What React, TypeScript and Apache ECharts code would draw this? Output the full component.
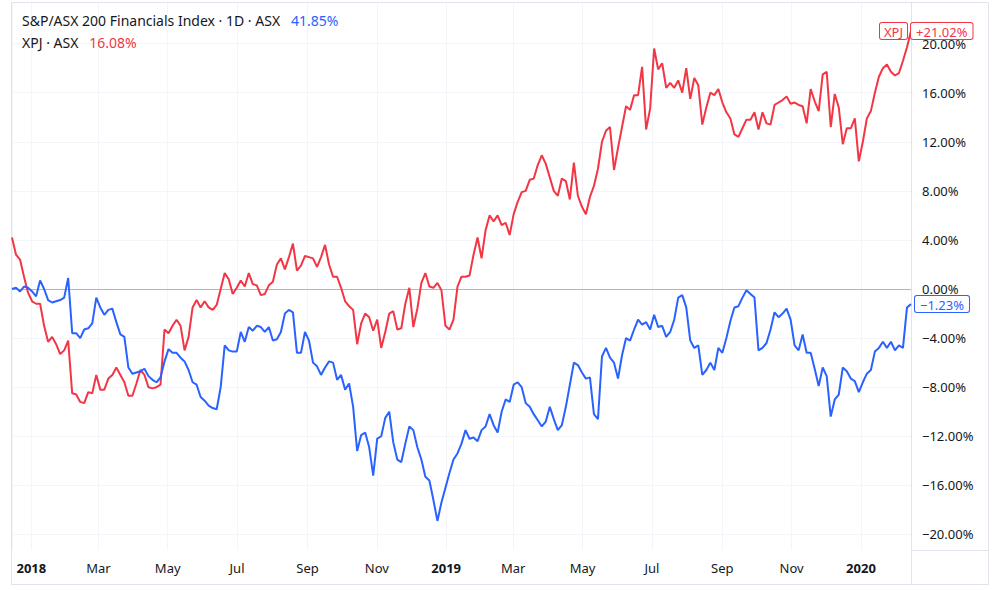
import React, { useEffect, useRef } from 'react';
import * as echarts from 'echarts';

const startDate = '2017-12-15';
const endDate = '2020-02-14';

// XPJ · ASX (% change), evenly spaced samples from startDate to endDate
const xpjValues = [
  4.2, 2.8, 2.4, 1.0, -0.3, -1.0, -1.2, -1.2, -3.0, -4.3,
  -3.9, -4.5, -5.3, -5.0, -4.2, -8.5, -8.6, -9.2, -9.3, -8.4,
  -8.5, -7.0, -8.2, -8.2, -7.3, -7.0, -6.4, -7.0, -7.6, -8.7,
  -8.7, -7.7, -6.6, -7.0, -8.0, -8.1, -8.0, -7.8, -3.3, -3.6,
  -3.0, -2.5, -3.0, -5.0, -3.9, -1.5, -0.9, -1.5, -1.0, -1.5,
  -1.7, -1.3, 0.0, 1.3, 0.8, -0.4, 0.1, 0.7, 0.2, 1.3,
  0.4, 0.3, -0.5, -0.4, 0.3, 0.6, 2.0, 2.5, 1.6, 2.6,
  3.7, 1.5, 1.9, 2.7, 2.6, 2.5, 1.8, 2.6, 3.6, 2.0,
  1.0, 1.0, 0.1, -1.0, -1.4, -1.7, -4.5, -2.8, -2.0, -2.3,
  -3.4, -2.5, -4.8, -3.5, -2.0, -1.8, -3.3, -3.2, -1.2, 0.1,
  -3.1, -1.6, 0.5, 1.3, 0.2, 0.1, 0.5, -0.1, -3.0, -3.3,
  -2.5, 0.2, 1.0, 1.0, 1.1, 2.8, 4.2, 2.5, 4.8, 6.0,
  5.5, 6.0, 5.2, 5.4, 4.4, 6.1, 7.1, 7.9, 8.0, 8.9,
  9.0, 10.1, 10.9, 10.2, 9.1, 8.0, 7.6, 9.0, 8.8, 7.3,
  10.3, 7.6, 6.7, 6.1, 7.5, 8.4, 9.8, 12.0, 12.9, 13.2,
  9.7, 11.5, 13.2, 14.9, 14.6, 15.8, 15.8, 18.1, 13.0, 14.7,
  19.6, 17.9, 18.4, 16.4, 16.8, 16.4, 17.0, 16.0, 18.0, 15.5,
  17.2, 16.6, 13.4, 14.8, 16.0, 15.8, 16.3, 15.2, 14.4, 13.9,
  12.6, 12.4, 13.1, 13.8, 13.8, 14.4, 13.0, 14.4, 13.5, 13.4,
  15.0, 15.2, 15.4, 15.7, 15.1, 15.2, 15.0, 14.9, 13.5, 16.3,
  15.3, 14.5, 17.5, 17.7, 13.2, 15.9, 14.8, 11.8, 13.1, 13.1,
  13.9, 10.4, 12.0, 13.9, 14.5, 16.0, 17.3, 18.0, 18.3, 17.7,
  17.4, 17.6, 18.6, 19.7, 21.02,
];

// S&P/ASX 200 Financials Index (% change), same sample dates
const finValues = [
  0.0, 0.1, -0.2, 0.2, 0.1, -0.2, -0.6, 0.7, 0.0, -0.9,
  -1.1, -1.0, -0.9, -0.7, 0.9, -3.6, -3.6, -4.0, -3.3, -3.2,
  -2.8, -0.7, -1.5, -2.1, -1.7, -1.6, -2.7, -3.7, -3.9, -6.4,
  -6.9, -6.8, -6.7, -6.5, -7.1, -7.4, -7.6, -7.2, -5.9, -4.9,
  -5.2, -5.2, -5.6, -5.9, -6.6, -7.6, -7.8, -8.8, -9.1, -9.5,
  -9.7, -9.8, -8.0, -4.6, -5.0, -5.1, -5.1, -3.5, -4.3, -3.1,
  -3.4, -3.0, -3.1, -3.5, -3.1, -4.2, -4.1, -3.5, -2.0, -1.7,
  -1.9, -5.2, -5.2, -3.5, -4.2, -6.0, -6.3, -7.0, -6.4, -5.9,
  -6.0, -7.4, -7.0, -8.2, -7.7, -9.6, -13.2, -11.9, -11.7, -12.9,
  -15.2, -12.2, -12.0, -10.5, -10.0, -12.5, -13.9, -14.1, -12.6, -11.2,
  -11.5, -12.9, -13.9, -15.3, -15.6, -17.2, -18.9, -17.4, -16.2, -15.0,
  -13.9, -13.4, -12.6, -11.5, -12.2, -12.1, -12.4, -11.5, -11.2, -10.2,
  -11.1, -11.7, -10.0, -9.0, -9.2, -7.8, -7.6, -8.0, -9.3, -9.6,
  -10.2, -10.7, -11.2, -10.8, -9.6, -10.6, -11.5, -11.1, -9.6, -7.8,
  -6.0, -6.2, -6.8, -7.3, -7.2, -10.2, -10.6, -5.5, -4.8, -5.6,
  -6.0, -7.3, -5.4, -4.0, -4.2, -3.3, -2.5, -2.9, -2.7, -3.3,
  -2.1, -3.1, -3.0, -3.9, -3.5, -2.5, -0.7, -0.5, -1.5, -4.2,
  -4.8, -4.6, -7.0, -6.6, -6.0, -6.6, -4.8, -5.2, -4.0, -2.6,
  -1.5, -1.4, -0.7, -0.1, -0.4, -0.7, -5.0, -4.8, -4.4, -3.3,
  -1.9, -2.3, -2.0, -1.6, -2.5, -4.6, -5.0, -3.7, -5.2, -5.2,
  -6.5, -7.9, -6.4, -7.1, -10.4, -9.0, -8.6, -6.4, -6.7, -7.3,
  -7.5, -8.4, -7.6, -6.9, -6.6, -5.1, -4.8, -4.3, -4.8, -4.3,
  -5.0, -4.6, -4.8, -1.5, -1.23,
];

const yTickValues = [-20, -16, -12, -8, -4, 0, 4, 8, 12, 16, 20];
const yMin = -21.27;
const yMax = 23.31;

const finName = 'S&P/ASX 200 Financials Index · 1D · ASX';
const finChange = '41.85%';
const xpjName = 'XPJ · ASX';
const xpjChange = '16.08%';
const xpjTag = 'XPJ';
const xpjLast = '+21.02%';
const finLast = '\u22121.23%';

const RED = '#f23645';
const BLUE = '#2962ff';
const TEXT = '#131722';
const BORDER = '#e0e3eb';
const GRID = '#f3f5fa';
const FONT = '"Noto Sans", sans-serif';

export default function App() {
  const ref = useRef<HTMLDivElement>(null);

  useEffect(() => {
    const chart = echarts.init(ref.current!, null, { renderer: 'svg' });
    const t0 = +echarts.time.parse(startDate);
    const t1 = +echarts.time.parse(endDate);
    const n = xpjValues.length;
    const times = xpjValues.map((_, i) => t0 + ((t1 - t0) * i) / (n - 1));

    const fmtPct = (v: number) =>
      (v < 0 ? '\u2212' : '') + Math.abs(v).toFixed(2) + '%';

    chart.setOption({
      animation: false,
      backgroundColor: '#ffffff',
      textStyle: { fontFamily: FONT },
      grid: {
        left: 12,
        right: 89,
        top: 3,
        bottom: 40,
        containLabel: false,
        outerBoundsMode: 'none',
      },
      xAxis: {
        type: 'time',
        min: t0,
        max: t1,
        splitNumber: 13,
        axisLine: { show: true, lineStyle: { color: BORDER } },
        axisTick: { show: false },
        axisLabel: {
          color: TEXT,
          fontSize: 13,
          fontFamily: FONT,
          margin: 11,
          hideOverlap: false,
          formatter: {
            year: '{yr|{yyyy}}',
            month: '{MMM}',
          },
          rich: { yr: { fontWeight: 'bold', fontSize: 13, color: TEXT, fontFamily: FONT } },
        },
        splitLine: { show: true, lineStyle: { color: GRID, width: 1 } },
      },
      yAxis: {
        type: 'value',
        position: 'right',
        min: yMin,
        max: yMax,
        scale: true,
        axisLine: { show: true, lineStyle: { color: BORDER } },
        axisTick: { show: false, customValues: yTickValues },
        axisLabel: {
          customValues: yTickValues,
          color: TEXT,
          fontSize: 13,
          fontFamily: FONT,
          margin: 11,
          formatter: fmtPct,
        },
        splitLine: { show: true, lineStyle: { color: GRID, width: 1 } },
      },
      series: [
        {
          name: 'XPJ',
          type: 'line',
          data: times.map((t, i) => [t, xpjValues[i]]),
          showSymbol: false,
          symbol: 'none',
          lineStyle: { color: RED, width: 2 },
          itemStyle: { color: RED },
          z: 3,
          markLine: {
            silent: true,
            symbol: ['none', 'none'],
            label: { show: false },
            lineStyle: { color: '#b2b5be', type: 'solid', width: 1 },
            data: [{ yAxis: 0 }],
            z: 1,
          },
          endLabel: {
            show: true,
            offset: [-39, 0],
            formatter: `{n|${xpjTag}}{s|}{v|${xpjLast}}`,
            rich: {
              n: {
                color: RED,
                fontSize: 13,
                fontFamily: FONT,
                backgroundColor: '#ffffff',
                borderColor: RED,
                borderWidth: 1,
                borderRadius: 2,
                padding: [2, 4, 1, 4],
              },
              s: { width: 4 },
              v: {
                color: RED,
                fontSize: 13,
                fontFamily: FONT,
                backgroundColor: '#ffffff',
                borderColor: RED,
                borderWidth: 1,
                borderRadius: 2,
                padding: [2, 5, 1, 5],
              },
            },
          },
        },
        {
          name: 'S&P/ASX 200 Financials',
          type: 'line',
          data: times.map((t, i) => [t, finValues[i]]),
          showSymbol: false,
          symbol: 'none',
          lineStyle: { color: BLUE, width: 2 },
          itemStyle: { color: BLUE },
          z: 3,
          endLabel: {
            show: true,
            offset: [-4, 0],
            formatter: `{v|${finLast}}`,
            rich: {
              v: {
                color: BLUE,
                fontSize: 13,
                fontFamily: FONT,
                backgroundColor: '#ffffff',
                borderColor: BLUE,
                borderWidth: 1,
                borderRadius: 2,
                padding: [2, 5, 1, 5],
              },
            },
          },
        },
      ],
      graphic: [
        {
          type: 'rect',
          silent: true,
          z: -10,
          shape: { x: 11.5, y: 2.5, width: 977, height: 582 },
          style: { fill: 'none', stroke: BORDER, lineWidth: 1 },
        },
        {
          type: 'line',
          silent: true,
          shape: { x1: 911.5, y1: 550, x2: 911.5, y2: 584.5 },
          style: { stroke: BORDER, lineWidth: 1 },
        },
        {
          type: 'line',
          silent: true,
          shape: { x1: 911, y1: 550.5, x2: 988.5, y2: 550.5 },
          style: { stroke: BORDER, lineWidth: 1 },
        },
        {
          type: 'text',
          left: 22,
          top: 13,
          z: 100,
          silent: true,
          style: {
            text: `{a|${finName}}   {b|${finChange}}`,
            font: `14px ${FONT}`,
            rich: {
              a: { fill: TEXT, fontSize: 14, fontFamily: FONT },
              b: { fill: BLUE, fontSize: 14, fontFamily: FONT },
            },
          },
        },
        {
          type: 'text',
          left: 22,
          top: 35,
          z: 100,
          silent: true,
          style: {
            text: `{a|${xpjName}}   {b|${xpjChange}}`,
            font: `14px ${FONT}`,
            rich: {
              a: { fill: TEXT, fontSize: 14, fontFamily: FONT },
              b: { fill: RED, fontSize: 14, fontFamily: FONT },
            },
          },
        },
      ],
    });

    return () => chart.dispose();
  }, []);

  return (
    <div
      ref={ref}
      style={{ position: 'fixed', left: 0, top: 0, width: 1000, height: 590, background: '#fff' }}
    />
  );
}
